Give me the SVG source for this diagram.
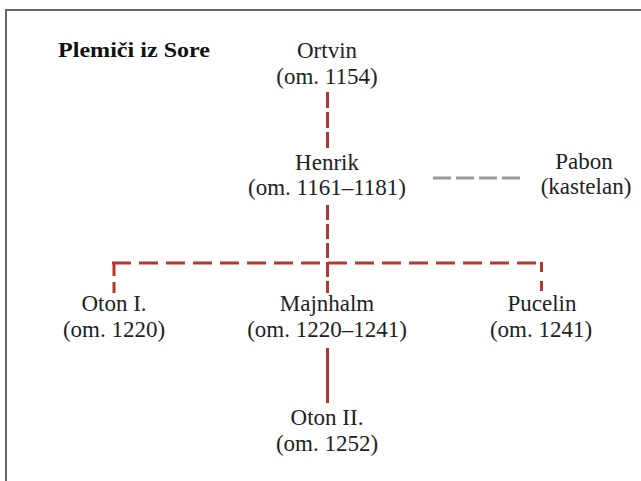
<svg xmlns="http://www.w3.org/2000/svg" width="641" height="481" viewBox="0 0 641 481">
<style>
.t{font-family:"Liberation Serif","Times New Roman",serif;font-size:23px;fill:#222;text-anchor:middle}
.h{font-family:"Liberation Serif","Times New Roman",serif;font-size:22px;font-weight:bold;fill:#111}
.r{stroke:#b5372d;stroke-width:3;fill:none}
.g{stroke:#9a9a9a;stroke-width:3;fill:none}
</style>
<rect width="641" height="481" fill="#fff"/>
<path d="M6 490V10H650" stroke="#666" stroke-width="2" fill="none"/>
<text class="h" x="58" y="57" textLength="152" lengthAdjust="spacingAndGlyphs">Plemiči iz Sore</text>
<g id="connectors">
<line class="r" x1="327.5" y1="92" x2="327.5" y2="150" stroke-dasharray="16 4"/>
<line class="r" x1="327.5" y1="205" x2="327.5" y2="293" stroke-dasharray="15 4"/>
<line class="r" x1="112" y1="263" x2="543" y2="263" stroke-dasharray="19 8"/>
<line class="r" x1="114" y1="262" x2="114" y2="293" stroke-dasharray="14 6"/>
<line class="r" x1="541.5" y1="262" x2="541.5" y2="293" stroke-dasharray="10 9"/>
<line class="r" x1="327.5" y1="348" x2="327.5" y2="403" stroke-width="3.5"/>
<line class="g" x1="433" y1="178" x2="520" y2="178" stroke-dasharray="18 5"/>
</g>
<g id="ortvin"><text class="t" x="327" y="58">Ortvin</text><text class="t" x="327" y="84">(om. 1154)</text></g>
<g id="henrik"><text class="t" x="327" y="170">Henrik</text><text class="t" x="327" y="195">(om. 1161–1181)</text></g>
<g id="pabon"><text class="t" x="584" y="169">Pabon</text><text class="t" x="586" y="194">(kastelan)</text></g>
<g id="oton1"><text class="t" x="114" y="311">Oton I.</text><text class="t" x="114" y="337">(om. 1220)</text></g>
<g id="majnhalm"><text class="t" x="327" y="311">Majnhalm</text><text class="t" x="327" y="337">(om. 1220–1241)</text></g>
<g id="pucelin"><text class="t" x="542" y="311">Pucelin</text><text class="t" x="541" y="337">(om. 1241)</text></g>
<g id="oton2"><text class="t" x="327" y="425">Oton II.</text><text class="t" x="327" y="451">(om. 1252)</text></g>
</svg>
